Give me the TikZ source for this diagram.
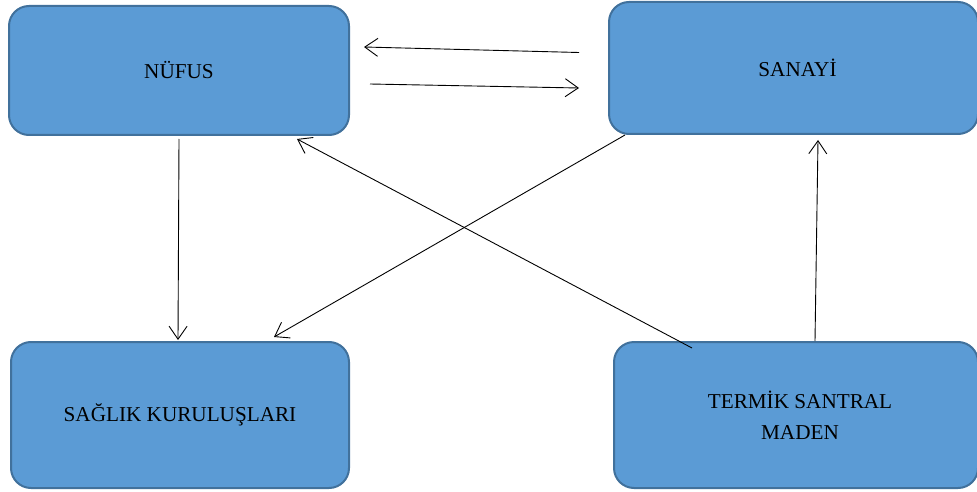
\documentclass[tikz,border=0pt]{standalone}
\usepackage{fontspec}
\setmainfont{Liberation Serif}
\usetikzlibrary{arrows.meta,calc}
\definecolor{boxfill}{HTML}{5B9BD5}
\definecolor{boxline}{HTML}{41719C}
\tikzset{
  box/.style={draw=boxline, fill=boxfill, line width=2pt, rounded corners=20pt,
    rectangle, align=center, inner sep=0pt,
    font=\fontsize{21.2}{31}\selectfont},
  conn/.style={draw=black, line width=0.9pt, -{Straight Barb[length=13pt,width=18pt,line width=0.9pt]}}
}
\begin{document}
\begin{tikzpicture}[x=1pt,y=-1pt]
\useasboundingbox (0,0) rectangle (977,492);
\begin{scope}
\clip (0,0) rectangle (977,492);
\node[box, minimum width=340pt, minimum height=129pt] (nufus) at (179,70.5) {NÜFUS};
\node[box, minimum width=369pt, minimum height=132pt] (sanayi) at (793.5,68) {\hspace*{8pt}SANAYİ};
\node[box, minimum width=338pt, minimum height=146pt] (saglik) at (180,415) {SAĞLIK KURULUŞLARI};
\node[box, minimum width=364pt, minimum height=146pt] (termik) at (796,415) {\hspace*{8pt}TERMİK SANTRAL\\\hspace*{8pt}MADEN};
\end{scope}
\draw[conn] ($(sanayi.west)+(-29,-15.5)$) -- ($(nufus.east)+(14,-23.5)$);
\draw[conn] ($(nufus.east)+(20,13.5)$) -- ($(sanayi.west)+(-29,20)$);
\draw[conn] ($(nufus.south)+(0,3)$) -- ($(saglik.north)+(-2,-1)$);
\draw[conn] ($(sanayi.south west)+(17,0)$) -- ($(saglik.north east)+(-76,-4)$);
\draw[conn] ($(termik.north west)+(79,7)$) -- ($(nufus.south east)+(-53,3)$);
\draw[conn] ($(termik.north)+(19,0)$) -- ($(sanayi.south)+(24.5,5)$);
\end{tikzpicture}
\end{document}
